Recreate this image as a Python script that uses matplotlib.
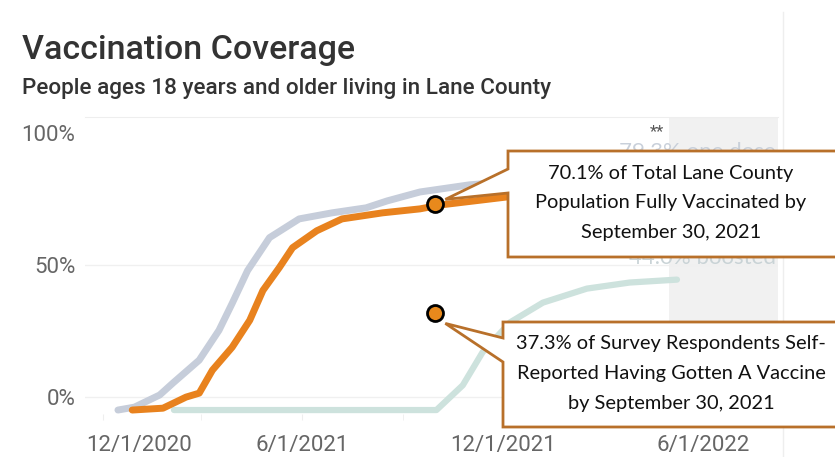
import matplotlib
matplotlib.use("Agg")
import matplotlib.pyplot as plt
import matplotlib.dates as mdates
from matplotlib.patches import Polygon
from matplotlib.lines import Line2D
from matplotlib.transforms import ScaledTranslation
import pandas as pd

# --- data (percent of people 18+) ---
one_dose_dates = ["2020-12-15", "2020-12-30", "2021-01-22", "2021-02-03", "2021-02-27",
                  "2021-03-17", "2021-03-29", "2021-04-12", "2021-05-02", "2021-05-29",
                  "2021-06-28", "2021-07-29", "2021-08-17", "2021-09-16", "2021-10-31",
                  "2021-12-02", "2022-02-01", "2022-05-01"]
one_dose_pct = [-4.9, -3.8, 0.8, 5.3, 14.0, 25.3, 35.5, 47.9, 60.4, 67.5,
                69.8, 71.7, 74.3, 77.7, 80.4, 81.5, 82.5, 83.0]

full_dates = ["2020-12-28", "2021-01-25", "2021-02-15", "2021-02-27", "2021-03-11",
              "2021-03-29", "2021-04-14", "2021-04-26", "2021-05-11", "2021-05-23",
              "2021-06-14", "2021-07-07", "2021-08-13", "2021-09-16", "2021-10-05",
              "2021-12-04", "2022-02-15", "2022-05-01"]
full_pct = [-4.9, -4.2, 0.0, 1.5, 10.2, 18.9, 29.1, 40.4, 49.1, 56.6,
            63.0, 67.5, 69.8, 71.3, 72.8, 75.8, 77.0, 77.5]

boosted_dates = ["2021-02-04", "2021-10-01", "2021-10-25", "2021-11-12", "2021-12-07",
                 "2022-01-06", "2022-02-15", "2022-03-26", "2022-05-08"]
boosted_pct = [-4.9, -4.9, 4.5, 17.0, 28.3, 35.8, 41.1, 43.4, 44.5]

# highlighted points (Sept 30, 2021)
marker_dates = ["2021-09-30", "2021-09-30"]
marker_pct = [73.0, 31.7]

callout_lines = [
    ["70.1% of Total Lane County", "Population Fully Vaccinated by", "September 30, 2021"],
    ["37.3% of Survey Respondents Self-", "Reported Having Gotten A Vaccine", "by September 30, 2021"],
]

y_ticks = [0, 50, 100]
y_tick_labels = ["0%", "50%", "100%"]
x_ticks = ["2020-12-01", "2021-06-01", "2021-12-01", "2022-06-01"]
x_tick_labels = ["12/1/2020", "6/1/2021", "12/1/2021", "6/1/2022"]
x_minor = ["2020-12-01", "2021-03-01", "2021-06-01", "2021-09-01",
           "2021-12-01", "2022-03-01", "2022-06-01"]
forecast_span = ["2022-05-01", "2022-08-08"]

ORANGE = "#e8821e"
GREY_LINE = "#c6cdda"
GREEN_LINE = "#cde2dd"
BROWN = "#b8702a"

W, H = 835, 457


def fx(px):
    return px / W


def fy(py):
    return 1 - py / H


def dates(values):
    return mdates.date2num(pd.to_datetime(values))


fig = plt.figure(figsize=(W / 100, H / 100), dpi=100)
fig.patch.set_facecolor("white")
ax = fig.add_axes([fx(85), fy(414), fx(778 - 85), (414 - 117) / H])

ax.set_xlim(dates(["2020-11-15", "2022-08-08"]))
ax.set_ylim(-6.4, 106.1)

span = dates(forecast_span)
ax.axvspan(span[0], span[1], color="#f1f1f1", lw=0, zorder=0)

ax.plot(dates(boosted_dates), boosted_pct, color=GREEN_LINE, lw=4.5,
        solid_capstyle="round", zorder=2)
ax.plot(dates(one_dose_dates), one_dose_pct, color=GREY_LINE, lw=5,
        solid_capstyle="round", zorder=2)
ax.plot(dates(full_dates), full_pct, color=ORANGE, lw=5,
        solid_capstyle="round", zorder=3)

mx = dates(marker_dates)
ax.plot(mx, marker_pct, "o", ms=11.5, mfc="#e8891c", mec="black", mew=2,
        zorder=6, clip_on=False)

# faint grid and frame
for v in [0, 50]:
    ax.axhline(v, color="#f0f0f0", lw=1, zorder=0)
for side in ["left", "right", "bottom"]:
    ax.spines[side].set_visible(False)
ax.spines["top"].set_color("#eeeeee")

ax.set_yticks(y_ticks)
ax.set_yticklabels(y_tick_labels)
ax.tick_params(axis="y", length=0, pad=7, labelsize=16, labelcolor="#666666")

ax.set_xticks(dates(x_ticks))
ax.set_xticklabels(x_tick_labels)
ax.set_xticks(dates(x_minor), minor=True)
ax.tick_params(axis="x", which="both", length=4, color="#eeeeee", pad=11,
               labelsize=16, labelcolor="#666666")
for lab in ax.get_xticklabels() + ax.get_yticklabels():
    lab.set_fontfamily("Roboto")
first = ax.get_xticklabels()[0]
first.set_horizontalalignment("left")
first.set_transform(first.get_transform() + ScaledTranslation(-0.16, 0, fig.dpi_scale_trans))

# labels of the shaded forecast area (mostly hidden behind the callouts)
fig.text(fx(657), fy(132), "**", ha="center", va="center", fontsize=12,
         color="#555555", fontfamily="Roboto")
fig.text(fx(776), fy(158), "79.3% one dose", ha="right", va="baseline",
         fontsize=16, color="#c9d0da", fontfamily="Lato")
fig.text(fx(776), fy(264), "44.0% boosted", ha="right", va="baseline",
         fontsize=16, color="#c9d3d6", fontfamily="Lato")

# dashboard divider on the right
fig.add_artist(Line2D([fx(783), fx(783)], [fy(12), fy(457)], color="#eeeeee", lw=1))

# callout boxes with a wedge pointing at each marker
fig.canvas.draw()
boxes = [
    dict(left=508, top=151, bottom=257, w1=169, w2=193, tip=(10, -5), text_y=[173, 203, 233]),
    dict(left=503, top=322, bottom=427, w1=338, w2=362, tip=(10, 10), text_y=[343, 373, 403]),
]
for i, b in enumerate(boxes):
    dx, dy = ax.transData.transform((mx[i], marker_pct[i]))
    tip_px = (dx + b["tip"][0], H - dy + b["tip"][1])
    pts = [(W + 10, b["top"]), (b["left"], b["top"]), (b["left"], b["w1"]), tip_px,
           (b["left"], b["w2"]), (b["left"], b["bottom"]), (W + 10, b["bottom"])]
    poly = Polygon([(fx(p[0]), fy(p[1])) for p in pts], closed=True,
                   transform=fig.transFigure, facecolor="white", edgecolor=BROWN,
                   lw=2, zorder=5, joinstyle="miter")
    fig.add_artist(poly)
    for line, ty in zip(callout_lines[i], b["text_y"]):
        fig.text(fx(671), fy(ty), line, ha="center", va="center", fontsize=14.4,
                 color="#111111", fontfamily="Lato", zorder=7)

# titles
fig.text(fx(22), fy(59), "Vaccination Coverage", ha="left", va="baseline",
         fontsize=24.5, color="#333333", fontfamily="Roboto", fontweight="medium")
fig.text(fx(22), fy(94), "People ages 18 years and older living in Lane County",
         ha="left", va="baseline", fontsize=16.2, color="#333333",
         fontfamily="Roboto", fontweight="medium")

fig.savefig("out.png", dpi=100, facecolor="white")
